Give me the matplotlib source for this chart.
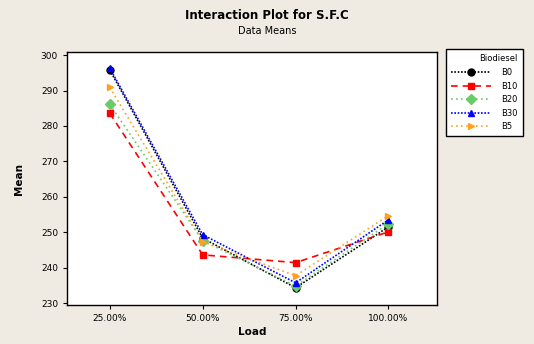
import numpy as np
import matplotlib
matplotlib.use('Agg')
import matplotlib.pyplot as plt

# Interaction plot for S.F.C (data means)
loads = ['25.00%', '50.00%', '75.00%', '100.00%']
blends = ['B0', 'B10', 'B20', 'B30', 'B5']

b0 = [295.8, 248.3, 234.3, 251.5]
b10 = [283.6, 243.6, 241.4, 250.1]
b20 = [286.1, 247.6, 234.8, 252.4]
b30 = [296.3, 249.3, 235.7, 253.5]
b5 = [290.9, 247.3, 237.7, 254.7]

yticks = [230, 240, 250, 260, 270, 280, 290, 300]

series = [b0, b10, b20, b30, b5]
colors = ['black', '#ff0000', '#66cc66', '#0000ff', '#ffa020']
markers = ['o', 's', 'D', '^', '>']
styles = [(0, (1, 1)), (0, (4, 3)), (0, (1, 2)), (0, (1, 1)), (0, (1, 2))]

fig = plt.figure(figsize=(5.34, 3.44), dpi=100)
fig.patch.set_facecolor('#efebe2')
ax = fig.add_axes([0.1255, 0.113, 0.6925, 0.736])
ax.set_facecolor('white')

x = np.arange(len(loads))
for vals, c, m, ls, lab in zip(series, colors, markers, styles, blends):
    ax.plot(x, vals, color=c, marker=m, linestyle=ls, linewidth=1.2,
            markersize=5, label=lab)

ax.set_xlim(-0.46, 3.52)
ax.set_ylim(229.4, 300.9)
ax.set_xticks(x)
ax.set_xticklabels(loads, fontsize=6.5)
ax.set_yticks(yticks)
ax.set_yticklabels([str(v) for v in yticks], fontsize=6.5)
ax.tick_params(length=3, width=0.8, direction='out')
for s in ax.spines.values():
    s.set_linewidth(1.0)

ax.set_xlabel('Load', fontsize=7.5, fontweight='bold', labelpad=3)
ax.set_ylabel('Mean', fontsize=7.5, fontweight='bold', labelpad=12)

fig.text(0.5, 0.955, 'Interaction Plot for S.F.C', ha='center', va='center',
         fontsize=8.5, fontweight='bold')
fig.text(0.5, 0.91, 'Data Means', ha='center', va='center', fontsize=7)

leg = ax.legend(title='Biodiesel', loc='upper left', bbox_to_anchor=(1.025, 1.01),
                fontsize=6, title_fontsize=6, frameon=True, fancybox=False,
                edgecolor='black', facecolor='white', framealpha=1,
                handlelength=4.8, borderpad=0.6,
                labelspacing=0.55, handletextpad=1.2, borderaxespad=0)
leg.get_frame().set_linewidth(1.0)
leg._legend_box.align = 'right'

fig.savefig('out.png', dpi=100, facecolor=fig.get_facecolor())
